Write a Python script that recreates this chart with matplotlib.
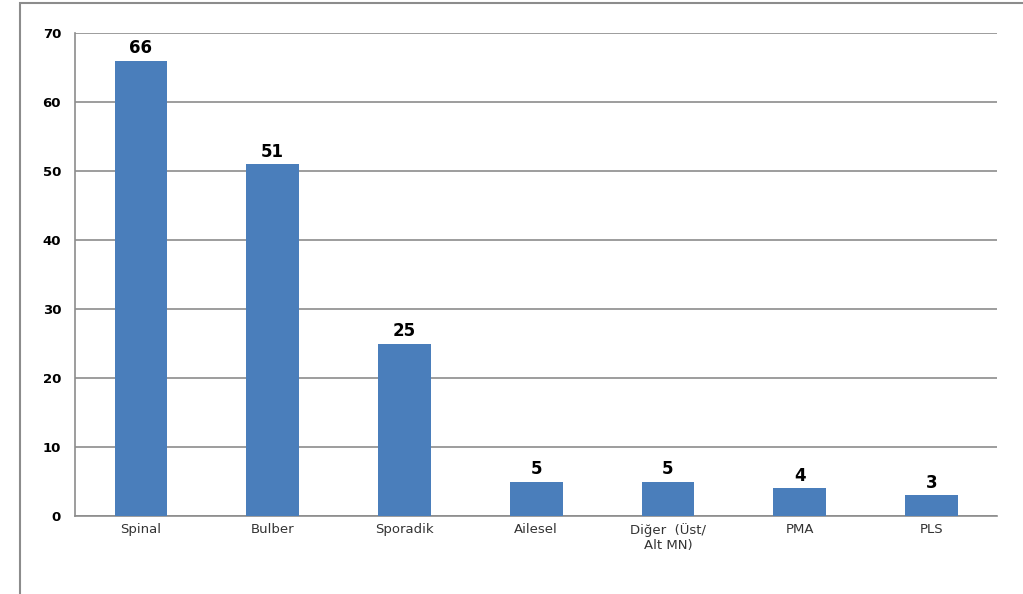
import matplotlib.pyplot as plt
from matplotlib.patches import Rectangle

categories = ["Spinal", "Bulber", "Sporadik", "Ailesel", "Diğer  (Üst/\nAlt MN)", "PMA", "PLS"]
values = [66, 51, 25, 5, 5, 4, 3]

fig = plt.figure(figsize=(10.23, 5.94), dpi=100)
ax = fig.add_axes([0.0733, 0.1313, 0.9017, 0.8131])

# outer chart frame
fig.patches.append(Rectangle((0.02, -0.01), 0.99, 1.005, transform=fig.transFigure,
                             fill=False, edgecolor='#8c8c8c', linewidth=1.5))

x = range(len(categories))
ax.bar(x, values, width=0.4, color='#4a7ebb', zorder=3)

for i, v in enumerate(values):
    ax.text(i, v + 0.5, str(v), ha='center', va='bottom', fontsize=12,
            fontweight='bold', color='black', zorder=4)

ax.set_xlim(-0.5, len(categories) - 0.5)
ax.set_ylim(0, 70)
ax.set_yticks(range(0, 71, 10))
ax.yaxis.grid(True, color='#8c8c8c', linewidth=1.2, zorder=0)
ax.set_xticks(list(x))
ax.set_xticklabels(categories, fontsize=9.5, color='#333333')
for lbl in ax.get_yticklabels():
    lbl.set_fontweight('bold')
    lbl.set_fontsize(9.5)

for s in ['top', 'right']:
    ax.spines[s].set_visible(False)
ax.spines['left'].set_color('#8c8c8c')
ax.spines['bottom'].set_color('#8c8c8c')
ax.spines['left'].set_linewidth(1.2)
ax.spines['bottom'].set_linewidth(1.2)
ax.tick_params(axis='y', length=0, pad=10)
ax.tick_params(axis='x', length=0, pad=5)

plt.savefig("out.png", dpi=100)
